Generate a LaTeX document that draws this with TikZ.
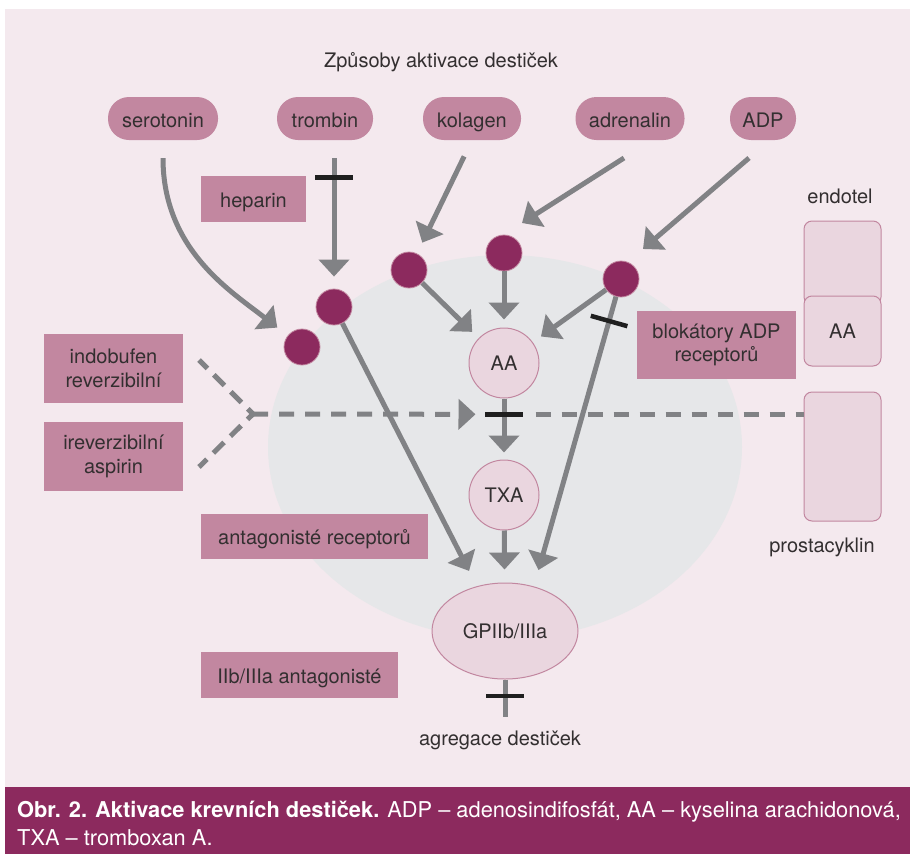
\documentclass[tikz,border=0pt]{standalone}
\usepackage{fontspec}
\setmainfont{TeX Gyre Heros}
\usepackage{xcolor}
\usetikzlibrary{arrows.meta,shapes.geometric}

\definecolor{panelbg}{RGB}{244,233,238}
\definecolor{cellgray}{RGB}{230,231,233}
\definecolor{boxpink}{RGB}{194,135,160}
\definecolor{lightpink}{RGB}{234,214,223}
\definecolor{plum}{RGB}{140,42,94}
\definecolor{arrowgray}{RGB}{129,130,133}
\definecolor{inktext}{RGB}{51,47,48}

\begin{document}
\begin{tikzpicture}[x=1pt,y=-1pt,
    every node/.style={font=\fontsize{20}{23.5}\selectfont, text=inktext},
    pill/.style={rounded corners=21pt, fill=boxpink, minimum height=43pt, inner sep=0pt, text height=17pt, text depth=0pt},
    drug/.style={fill=boxpink, inner sep=0pt, align=center},
    oneline/.style={text height=16pt, text depth=0pt},
    endo/.style={rounded corners=8pt, fill=lightpink, draw=boxpink, line width=1pt, minimum width=77pt, inner sep=0pt},
    dot/.style={circle, fill=plum, draw=boxpink, line width=0.8pt, minimum size=36pt, inner sep=0pt},
    molecule/.style={circle, fill=lightpink, draw=boxpink, line width=1pt, minimum size=70pt, inner sep=0pt},
    arr/.style={draw=arrowgray, line width=5pt, -{Triangle[width=30pt,length=17pt]}},
    stem/.style={draw=arrowgray, line width=5pt},
    dline/.style={draw=arrowgray, line width=5pt, dash pattern=on 15pt off 11pt},
    inhib/.style={fill=black!88, inner sep=0pt, minimum width=4.5pt, minimum height=38pt, sloped}]

    \useasboundingbox (0,0) rectangle (910,854);
    \fill[panelbg] (5,9) rectangle (910,787);
    \node[ellipse, fill=cellgray, minimum width=474pt, minimum height=384pt, inner sep=0pt] (cell) at (505,447) {};

    \node (title) at (441,62) {Způsoby aktivace destiček};

    \node[pill, minimum width=110pt] (sero) at (163,118.5) {serotonin};
    \node[pill, minimum width=96pt] (trom) at (325,118.5) {trombin};
    \node[pill, minimum width=98pt] (kol) at (472,118.5) {kolagen};
    \node[pill, minimum width=109pt] (adr) at (630,118.5) {adrenalin};
    \node[pill, minimum width=66pt] (adp) at (763,118.5) {ADP};

    \node[drug, oneline, minimum width=105pt, minimum height=46pt] (hep) at (253.5,199) {heparin};
    \node[drug, minimum width=139pt, minimum height=69pt] (indo) at (113.5,368.5) {indobufen\\reverzibilní};
    \node[drug, minimum width=139pt, minimum height=69pt] (irev) at (113.5,456.5) {ireverzibilní\\aspirin};
    \node[drug, oneline, minimum width=227pt, minimum height=45pt] (antrec) at (314.5,536.5) {antagonisté receptorů};
    \node[drug, oneline, minimum width=197pt, minimum height=46pt] (antgp) at (299.5,675) {IIb/IIIa antagonisté};
    \node[drug, minimum width=159pt, minimum height=68pt] (blok) at (716.5,345) {blokátory ADP\\receptorů};

    \node (endotel) at (840,196) {endotel};
    \node[endo, minimum height=84pt] (etop) at (842.5,263) {};
    \node[endo, minimum height=70pt] (eaa) at (842.5,331) {AA};
    \node[endo, minimum height=129pt] (pbox) at (842.5,456.5) {};
    \node (prost) at (822,547) {prostacyklin};

    \node[dot] (c1) at (409,270) {};
    \node[dot] (c2) at (334,307) {};
    \node[dot] (c3) at (302,347) {};
    \node[dot] (c4) at (504,253) {};
    \node[dot] (c5) at (621,279) {};

    \node[molecule] (aa) at (504,363) {AA};
    \node[molecule] (txa) at (504,495) {TXA};
    \node[ellipse, fill=lightpink, draw=boxpink, line width=1pt, minimum width=146pt, minimum height=96pt, inner sep=0pt] (gp) at (505,631) {GPIIb/IIIa};
    \node (agr) at (500,740) {agregace destiček};

    \coordinate (adrFrom) at (624,158);
    \coordinate (adrTo) at (522,223);
    \coordinate (adpFrom) at (749,158);
    \coordinate (adpTo) at (643,249);
    \coordinate (fork) at (253,414);

    \draw[arr, shorten <=18pt, shorten >=13pt] (sero.south) .. controls (163,250) and (232,292) .. (c3);
    \draw[arr, shorten <=18pt, shorten >=12pt] (c2 |- trom.south) -- node[pos=0.25, inhib] {} (c2);
    \draw[arr, shorten <=18pt, shorten >=12pt] (kol.south) -- (c1);
    \draw[arr] (adrFrom) -- (adrTo);
    \draw[arr] (adpFrom) -- (adpTo);

    \draw[arr, shorten >=9pt] (c1) -- (aa);
    \draw[arr, shorten >=8pt] (c4) -- (aa);
    \draw[arr, shorten >=10pt] (c5) -- (aa);
    \draw[arr, shorten >=7pt] (aa) -- node[pos=0.26, inhib] (aabar) {} (txa);
    \draw[arr, shorten >=13pt] (txa) -- (gp);
    \draw[arr, shorten >=13pt] (c2) -- ([xshift=-30pt]gp.north);
    \draw[arr, shorten >=13pt] (c5) -- node[pos=0.085, inhib] {} ([xshift=30pt]gp.north);
    \draw[stem, shorten >=10pt] (gp) -- node[pos=0.35, inhib] {} (gp |- agr.north);

    \draw[dline, dash pattern=on 15pt off 9pt, dash phase=3pt] (fork) ++(-54,-54) -- (fork) -- ++(-54,53);
    \draw[dline, -{Triangle[width=30pt,length=17pt]}, shorten >=7pt] (fork) -- (aabar);
    \draw[dline, shorten <=10pt] (aabar) -- (pbox.west |- aabar);

    \fill[plum] (5,787) rectangle (910,854);
    \node[anchor=north west, inner sep=0pt, align=left, text=white, font=\fontsize{21.8}{28}\selectfont] (caption) at (17,801)
        {\textbf{Obr. 2. Aktivace krevních destiček.} ADP – adenosindifosfát, AA – kyselina arachidonová,\\TXA – tromboxan A.};
\end{tikzpicture}
\end{document}
